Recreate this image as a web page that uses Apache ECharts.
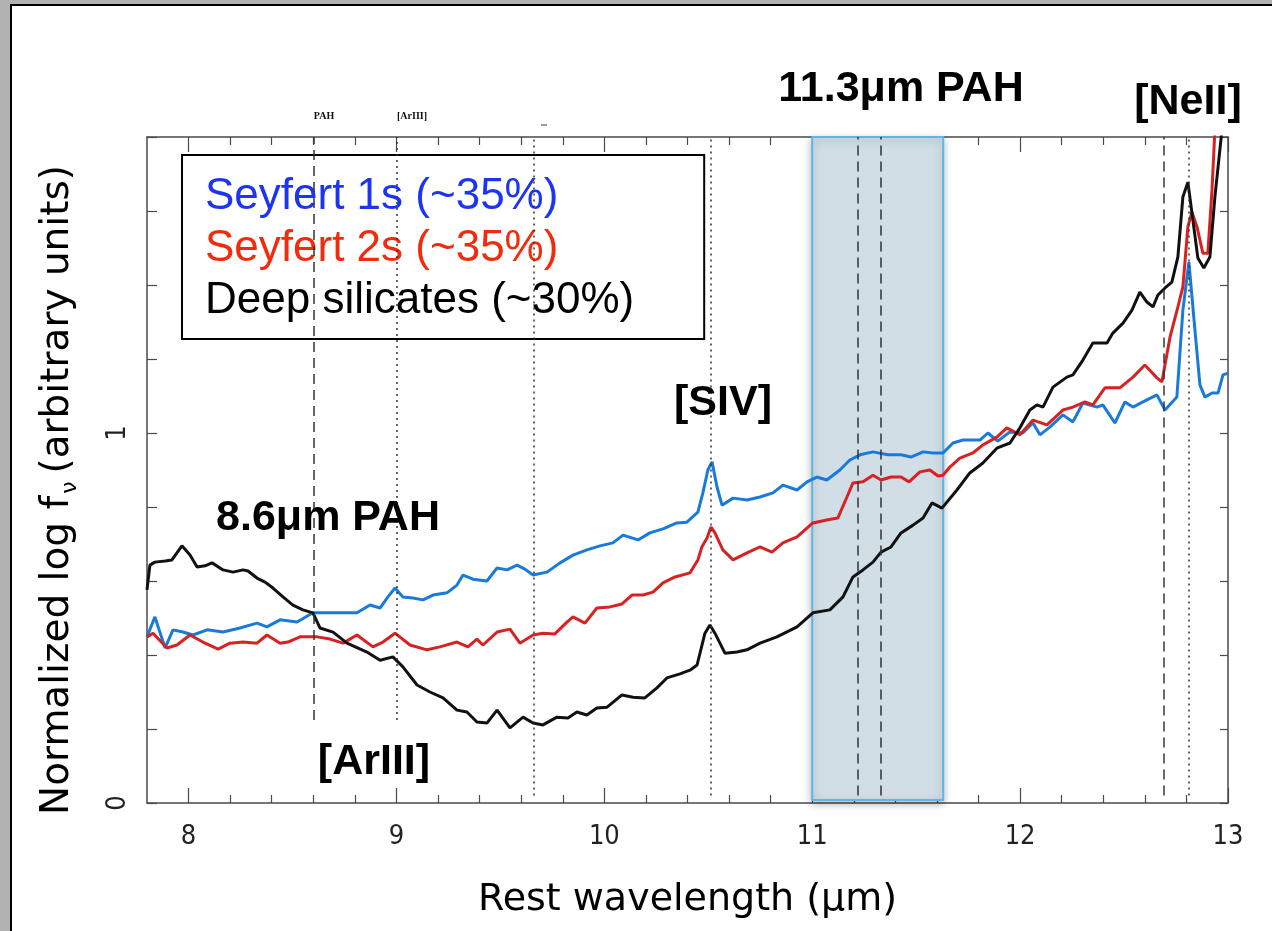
<!DOCTYPE html>
<html>
<head>
<meta charset="utf-8">
<title>Mid-IR spectral classes</title>
<script src="https://cdn.jsdelivr.net/npm/echarts@6/dist/echarts.min.js"></script>
<style>
  html, body { margin: 0; padding: 0; background: #b2b2b2; }
  #sheet { position: absolute; left: 10px; top: 4px; right: 0; bottom: 0;
           background: #fff; border-left: 2px solid #000; border-top: 2px solid #000; }
  #chart { position: absolute; left: 0; top: 0; width: 1272px; height: 931px; }
</style>
</head>
<body>
<div id="sheet"></div>
<div id="chart"></div>
<script>
// Mean spectra, [rest wavelength (um), normalized log f_nu]
const seyfert1 = [
  [7.800,0.449],[7.838,0.503],[7.887,0.419],[7.925,0.468],[7.973,0.462],[8.021,0.454],[8.089,0.468],
  [8.166,0.462],[8.247,0.473],[8.329,0.486],[8.377,0.476],[8.440,0.495],[8.522,0.489],[8.598,0.514],
  [8.647,0.514],[8.728,0.514],[8.810,0.514],[8.873,0.535],[8.921,0.527],[8.959,0.557],[8.993,0.581],
  [9.031,0.557],[9.079,0.554],[9.128,0.549],[9.176,0.562],[9.243,0.568],[9.291,0.589],[9.320,0.616],
  [9.368,0.605],[9.435,0.600],[9.484,0.635],[9.532,0.630],[9.580,0.643],[9.618,0.632],[9.657,0.616],
  [9.724,0.624],[9.787,0.649],[9.849,0.670],[9.916,0.684],[9.979,0.695],[10.041,0.703],[10.090,0.724],
  [10.162,0.711],[10.219,0.730],[10.282,0.741],[10.349,0.757],[10.397,0.759],[10.450,0.786],[10.474,0.838],
  [10.498,0.900],[10.518,0.922],[10.542,0.854],[10.566,0.805],[10.619,0.824],[10.686,0.819],[10.749,0.827],
  [10.811,0.838],[10.859,0.859],[10.927,0.846],[10.975,0.868],[11.022,0.881],[11.070,0.873],[11.133,0.900],
  [11.181,0.927],[11.230,0.941],[11.292,0.949],[11.364,0.941],[11.427,0.941],[11.475,0.935],[11.533,0.949],
  [11.581,0.946],[11.629,0.946],[11.677,0.973],[11.725,0.981],[11.807,0.981],[11.845,1.000],[11.893,0.978],
  [11.951,1.003],[12.013,1.000],[12.062,1.027],[12.095,0.995],[12.143,1.016],[12.206,1.049],[12.254,1.030],
  [12.302,1.081],[12.370,1.070],[12.398,1.076],[12.456,1.027],[12.504,1.084],[12.543,1.070],[12.591,1.084],
  [12.658,1.103],[12.697,1.062],[12.754,1.097],[12.783,1.332],[12.812,1.462],[12.841,1.278],[12.865,1.130],
  [12.889,1.097],[12.923,1.108],[12.952,1.108],[12.976,1.157],[13.000,1.162]
];
const seyfert2 = [
  [7.800,0.449],[7.829,0.459],[7.896,0.419],[7.944,0.427],[8.007,0.454],[8.069,0.435],[8.142,0.416],
  [8.199,0.432],[8.262,0.435],[8.329,0.432],[8.377,0.454],[8.440,0.432],[8.478,0.435],[8.536,0.449],
  [8.618,0.449],[8.680,0.443],[8.743,0.432],[8.810,0.454],[8.887,0.422],[8.935,0.435],[8.993,0.459],
  [9.065,0.427],[9.147,0.414],[9.209,0.422],[9.291,0.435],[9.344,0.422],[9.387,0.443],[9.416,0.427],
  [9.484,0.462],[9.546,0.470],[9.594,0.432],[9.657,0.454],[9.705,0.459],[9.762,0.457],[9.820,0.489],
  [9.849,0.503],[9.907,0.486],[9.964,0.527],[10.027,0.530],[10.085,0.538],[10.133,0.562],[10.186,0.562],
  [10.234,0.570],[10.282,0.595],[10.340,0.611],[10.412,0.622],[10.450,0.657],[10.469,0.692],[10.494,0.716],
  [10.513,0.746],[10.532,0.730],[10.570,0.684],[10.619,0.657],[10.686,0.676],[10.749,0.692],[10.806,0.678],
  [10.859,0.703],[10.927,0.719],[11.003,0.757],[11.070,0.765],[11.123,0.770],[11.167,0.827],[11.196,0.865],
  [11.244,0.868],[11.292,0.886],[11.331,0.873],[11.379,0.881],[11.427,0.881],[11.466,0.868],[11.518,0.895],
  [11.566,0.900],[11.605,0.884],[11.629,0.886],[11.662,0.908],[11.710,0.932],[11.773,0.946],[11.821,0.968],
  [11.888,0.989],[11.936,1.014],[11.999,0.995],[12.062,1.035],[12.129,1.022],[12.206,1.062],[12.254,1.070],
  [12.312,1.084],[12.350,1.076],[12.408,1.122],[12.480,1.122],[12.543,1.151],[12.600,1.184],[12.658,1.149],
  [12.682,1.138],[12.721,1.259],[12.759,1.341],[12.783,1.395],[12.807,1.557],[12.826,1.597],[12.851,1.557],
  [12.879,1.486],[12.903,1.486],[12.923,1.657],[12.937,1.819],[12.960,2.050]
];
const deepSilicates = [
  [7.800,0.576],[7.814,0.643],[7.838,0.651],[7.887,0.654],[7.920,0.657],[7.968,0.695],[8.007,0.670],
  [8.041,0.638],[8.079,0.641],[8.113,0.649],[8.166,0.630],[8.214,0.624],[8.262,0.630],[8.286,0.627],
  [8.329,0.608],[8.368,0.597],[8.406,0.581],[8.454,0.557],[8.502,0.535],[8.550,0.522],[8.598,0.514],
  [8.632,0.473],[8.695,0.462],[8.762,0.432],[8.858,0.408],[8.921,0.386],[8.983,0.395],[9.031,0.368],
  [9.099,0.319],[9.161,0.300],[9.224,0.284],[9.291,0.251],[9.339,0.246],[9.387,0.219],[9.435,0.216],
  [9.484,0.251],[9.546,0.203],[9.609,0.232],[9.657,0.216],[9.705,0.211],[9.772,0.232],[9.825,0.230],
  [9.868,0.246],[9.916,0.238],[9.964,0.257],[10.013,0.259],[10.085,0.292],[10.138,0.286],[10.195,0.284],
  [10.253,0.311],[10.301,0.338],[10.364,0.349],[10.412,0.359],[10.446,0.373],[10.484,0.459],[10.508,0.481],
  [10.532,0.459],[10.580,0.405],[10.638,0.408],[10.686,0.414],[10.749,0.432],[10.830,0.449],[10.927,0.476],
  [11.003,0.514],[11.085,0.522],[11.148,0.557],[11.196,0.611],[11.244,0.630],[11.292,0.651],[11.331,0.678],
  [11.379,0.692],[11.427,0.730],[11.485,0.751],[11.533,0.770],[11.576,0.811],[11.624,0.797],[11.696,0.846],
  [11.758,0.892],[11.821,0.919],[11.888,0.959],[11.951,0.973],[11.999,1.014],[12.047,1.062],[12.081,1.076],
  [12.110,1.070],[12.158,1.124],[12.225,1.151],[12.254,1.157],[12.302,1.197],[12.350,1.243],[12.418,1.243],
  [12.446,1.270],[12.495,1.297],[12.538,1.332],[12.576,1.381],[12.610,1.354],[12.639,1.341],[12.663,1.373],
  [12.697,1.392],[12.730,1.408],[12.759,1.476],[12.783,1.638],[12.807,1.678],[12.831,1.576],[12.855,1.473],
  [12.884,1.446],[12.913,1.476],[12.937,1.638],[12.971,1.819],[12.990,1.950]
];

const seriesNames = ['Seyfert 1s (~35%)', 'Seyfert 2s (~35%)', 'Deep silicates (~30%)'];

// Emission-feature markers: wavelength, line style, lower end (normalized units)
const featureWavelengths = [8.6, 9.0, 9.66, 10.51, 11.22, 11.33, 12.69, 12.81];
const featureStyles      = ['dashed', 'dotted', 'dotted', 'dotted', 'dashed', 'dashed', 'dashed', 'dotted'];
const featureLowerEnds   = [0.224, 0.224, 0.02, 0.02, 0.02, 0.02, 0.02, 0.02];

// 11.3 um PAH band
const pahBand = [11.0, 11.63];

// Axes
const xRange = [7.8, 13];
const yRange = [0, 1.8];
const xMajorTicks = [8, 9, 10, 11, 12, 13];
const xMinorTicks = [8.2, 8.4, 8.6, 8.8, 9.2, 9.4, 9.6, 9.8, 10.2, 10.4, 10.6, 10.8,
                     11.2, 11.4, 11.6, 11.8, 12.2, 12.4, 12.6, 12.8];
const yTicks = [0, 0.2, 0.4, 0.6, 0.8, 1, 1.2, 1.4, 1.6, 1.8];
const yTickLabels = [0, 1];

const FRAME = '#4a4a4a';
const TICK_FONT = "'DejaVu Sans Condensed', 'Liberation Sans Narrow', 'DejaVu Sans', sans-serif";
const TITLE_FONT = "'DejaVu Sans', sans-serif";
const BOLD_FONT = "'Liberation Sans', Arial, sans-serif";

function xAxisDef(position, ticks, len, showLine) {
  return {
    type: 'value', position: position, min: xRange[0], max: xRange[1],
    axisLine: { show: showLine, onZero: false, lineStyle: { color: FRAME, width: 1.5 } },
    axisTick: { show: true, inside: true, length: len, customValues: ticks,
                lineStyle: { color: FRAME, width: 1.2 } },
    axisLabel: { show: false }, splitLine: { show: false }
  };
}

const chart = echarts.init(document.getElementById('chart'), null, { renderer: 'canvas' });

const dash = [10, 6];
const dot = [2, 4];

const option = {
  animation: false,
  backgroundColor: 'transparent',
  grid: { left: 147, top: 137, width: 1081, height: 666, containLabel: false },
  xAxis: [
    Object.assign(xAxisDef('bottom', xMajorTicks, 15, true), {
      axisLabel: { show: true, customValues: xMajorTicks, margin: 20, fontSize: 27,
                   fontFamily: TICK_FONT, color: '#222' },
      name: 'Rest wavelength (\u03bcm)', nameLocation: 'middle', nameGap: 78,
      nameTextStyle: { fontSize: 38, fontFamily: TITLE_FONT, color: '#000' }
    }),
    xAxisDef('bottom', xMinorTicks, 8, false),
    xAxisDef('top', xMajorTicks, 15, true),
    xAxisDef('top', xMinorTicks, 8, false)
  ],
  yAxis: [
    {
      type: 'value', position: 'left', min: yRange[0], max: yRange[1],
      axisLine: { show: true, onZero: false, lineStyle: { color: FRAME, width: 1.5 } },
      axisTick: { show: true, inside: true, length: 10, customValues: yTicks,
                  lineStyle: { color: FRAME, width: 1.2 } },
      axisLabel: { show: true, customValues: yTickLabels, rotate: 90, margin: 16,
                   fontSize: 27, fontFamily: TICK_FONT, color: '#222' },
      splitLine: { show: false },
      name: '{m|Normalized log f}{s|\u03bd}{m|(arbitrary units)}',
      nameLocation: 'middle', nameRotate: 90, nameGap: 66,
      nameTextStyle: {
        padding: [0, 40, 0, 0],
        rich: {
          m: { fontSize: 39, fontFamily: TITLE_FONT, color: '#000', lineHeight: 46 },
          s: { fontSize: 22, fontFamily: TITLE_FONT, color: '#000', lineHeight: 20,
               verticalAlign: 'bottom', padding: [0, 8, 0, 2] }
        }
      }
    },
    {
      type: 'value', position: 'right', min: yRange[0], max: yRange[1],
      axisLine: { show: true, onZero: false, lineStyle: { color: FRAME, width: 1.5 } },
      axisTick: { show: true, inside: true, length: 8, customValues: yTicks,
                  lineStyle: { color: FRAME, width: 1.2 } },
      axisLabel: { show: false }, splitLine: { show: false }
    }
  ],
  legend: {
    left: 182, top: 155, orient: 'vertical', icon: 'none',
    itemWidth: 0, itemHeight: 0, itemGap: 0, selectedMode: false,
    padding: [16, 70, 12, 18],
    backgroundColor: '#fff', borderColor: '#000', borderWidth: 2, borderRadius: 0,
    textStyle: { fontSize: 44, fontFamily: BOLD_FONT, lineHeight: 52 },
    data: [
      { name: seriesNames[0], textStyle: { color: '#1c34f4' } },
      { name: seriesNames[1], textStyle: { color: '#f42a0c' } },
      { name: seriesNames[2], textStyle: { color: '#000' } }
    ]
  },
  series: [
    {
      // 11.3 um PAH band
      type: 'line', data: [], z: 1, silent: true,
      markArea: {
        silent: true,
        itemStyle: { color: '#d1dee6', borderColor: '#62b4e4', borderWidth: 2,
                     shadowBlur: 8, shadowColor: 'rgba(0,0,0,0.28)', shadowOffsetY: 3 },
        data: [[{ xAxis: pahBand[0], yAxis: 0.008 }, { xAxis: pahBand[1], yAxis: yRange[1] }]]
      }
    },
    {
      // feature markers
      type: 'line', data: [], z: 2, silent: true,
      markLine: {
        silent: true, symbol: ['none', 'none'], label: { show: false },
        lineStyle: { color: '#333', width: 1.5 },
        data: featureWavelengths.map((w, i) => [
          { coord: [w, featureLowerEnds[i]],
            lineStyle: { color: '#333', width: 1.5, type: featureStyles[i] === 'dashed' ? dash : dot } },
          { coord: [w, yRange[1]] }
        ])
      }
    },
    {
      name: seriesNames[0], type: 'line', data: seyfert1, z: 3,
      showSymbol: false, symbol: 'none', clip: true,
      lineStyle: { color: '#1a7ad9', width: 3 }, itemStyle: { color: '#1a7ad9' }
    },
    {
      name: seriesNames[1], type: 'line', data: seyfert2, z: 3,
      showSymbol: false, symbol: 'none', clip: true,
      lineStyle: { color: '#d82222', width: 3 }, itemStyle: { color: '#d82222' }
    },
    {
      name: seriesNames[2], type: 'line', data: deepSilicates, z: 3,
      showSymbol: false, symbol: 'none', clip: true,
      lineStyle: { color: '#111', width: 3 }, itemStyle: { color: '#111' }
    }
  ],
  graphic: [
    { type: 'text', x: 901, y: 89, z: 10,
      style: { text: '11.3\u03bcm PAH', font: "bold 43px 'Liberation Sans', Arial, sans-serif",
               fill: '#000', textAlign: 'center', textVerticalAlign: 'middle' } },
    { type: 'text', x: 1188, y: 102, z: 10,
      style: { text: '[NeII]', font: "bold 43px 'Liberation Sans', Arial, sans-serif",
               fill: '#000', textAlign: 'center', textVerticalAlign: 'middle' } },
    { type: 'text', x: 723, y: 403, z: 10,
      style: { text: '[SIV]', font: "bold 43px 'Liberation Sans', Arial, sans-serif",
               fill: '#000', textAlign: 'center', textVerticalAlign: 'middle' } },
    { type: 'text', x: 328, y: 518, z: 10,
      style: { text: '8.6\u03bcm PAH', font: "bold 43px 'Liberation Sans', Arial, sans-serif",
               fill: '#000', textAlign: 'center', textVerticalAlign: 'middle' } },
    { type: 'text', x: 374, y: 762, z: 10,
      style: { text: '[ArIII]', font: "bold 43px 'Liberation Sans', Arial, sans-serif",
               fill: '#000', textAlign: 'center', textVerticalAlign: 'middle' } },
    { type: 'text', x: 324, y: 116, z: 10,
      style: { text: 'PAH', font: "bold 10px 'Liberation Serif', serif",
               fill: '#111', textAlign: 'center', textVerticalAlign: 'middle' } },
    { type: 'text', x: 412, y: 116, z: 10,
      style: { text: '[ArIII]', font: "bold 10px 'Liberation Serif', serif",
               fill: '#111', textAlign: 'center', textVerticalAlign: 'middle' } },
    { type: 'line', z: 10, shape: { x1: 541, y1: 125, x2: 547, y2: 125 },
      style: { stroke: '#333', lineWidth: 1 } }
  ]
};

chart.setOption(option);
</script>
</body>
</html>
